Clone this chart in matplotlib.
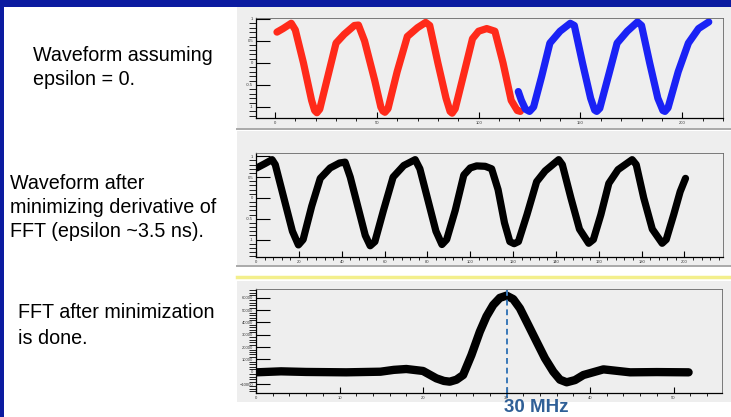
"""Slide: waveform before/after epsilon minimization and the resulting FFT."""
import matplotlib; matplotlib.use('Agg')
import matplotlib.pyplot as plt
from matplotlib.patches import Rectangle
from matplotlib.ticker import MultipleLocator

W, H = 731, 417
plt.rcParams['font.family'] = ['Liberation Sans', 'DejaVu Sans']

# --- waveform assuming epsilon = 0 (red = first half, blue = second half) ---
red_x = [1, 4, 8, 10, 14, 18, 19.5, 20.6, 22, 26, 30, 34, 39, 41, 44, 49, 52, 53, 54, 55.5,
         60, 65, 70, 74, 76, 80, 84, 86, 87, 88.5, 93, 97, 100, 104, 108, 112, 116, 119, 120.5]
red_y = [0.70, 0.78, 0.90, 0.75, 0.0, -0.85, -1.08, -1.13, -1.05, -0.3, 0.45, 0.65, 0.85,
         0.86, 0.5, -0.4, -1.0, -1.09, -1.12, -1.04, -0.2, 0.6, 0.8, 0.92, 0.85, 0.0, -0.8,
         -1.1, -1.14, -1.04, -0.2, 0.55, 0.72, 0.78, 0.72, 0.0, -0.85, -1.08, -1.1]
blue_x = [119.5, 121, 123, 125, 127, 131, 135, 140, 145, 147, 151, 155, 157, 158, 159.5,
          164, 168, 173, 178, 180, 184, 188, 190.5, 191.5, 193, 198, 203, 208, 213]
blue_y = [-0.65, -0.85, -1.05, -1.1, -1.0, -0.3, 0.45, 0.72, 0.9, 0.85, 0.0, -0.8, -1.07,
          -1.1, -1.03, -0.25, 0.45, 0.72, 0.93, 0.85, 0.0, -0.8, -1.08, -1.1, -1.02, -0.2,
          0.45, 0.78, 0.93]

# --- waveform after minimizing derivative of FFT ---
blk_x = [0.3, 4, 7.5, 9, 13, 17, 19.8, 22, 26, 30, 34.6, 39, 41.6, 44, 48, 51, 53.3, 55.5,
         59.5, 64, 69, 74.3, 76.5, 80, 84, 86.8, 89, 93, 97, 100, 103, 107, 110, 113, 116,
         118.5, 120.5, 122.5, 126.5, 131, 135, 141.3, 143, 147, 151, 155.3, 157.5, 161,
         164.7, 169, 175.6, 177.5, 181, 185, 189.6, 191.5, 195, 198, 200.5]
blk_y = [0.72, 0.82, 0.92, 0.8, 0.0, -0.8, -1.13, -1.0, -0.2, 0.47, 0.72, 0.84, 0.86, 0.5,
         -0.3, -0.9, -1.15, -1.05, -0.3, 0.5, 0.78, 0.92, 0.7, 0.0, -0.8, -1.12, -1.0, -0.3,
         0.55, 0.72, 0.77, 0.76, 0.7, 0.2, -0.6, -1.05, -1.1, -1.05, -0.4, 0.39, 0.65, 0.92,
         0.8, 0.0, -0.75, -1.09, -1.0, -0.4, 0.35, 0.68, 0.92, 0.8, 0.0, -0.75, -1.09, -1.0,
         -0.4, 0.15, 0.47]

# --- FFT after minimization (MHz) ---
fft_x = [0, 3, 6, 10.8, 14.9, 16.5, 18, 20, 21.6, 22.5, 23.2, 24, 24.8, 25.8, 26.8, 27.6,
         28.4, 29.2, 30, 30.8, 31.6, 32.6, 33.6, 34.6, 35.6, 36.4, 37.2, 38.2, 39.2, 41.6,
         44.8, 48, 51.8]
fft_y = [-500, 300, -200, -500, 0, 1500, 2200, 600, -5400, -7500, -8100, -6500, -2700,
         13600, 32500, 45000, 54200, 60000, 61800, 59000, 51500, 38000, 24400, 10900, 0,
         -6500, -8600, -6800, -2700, 1900, -500, -300, -500]
peak_mhz = 30

SLIDE_BLUE = '#0B1BA0'
PANEL_GRAY = '#EEEEEE'

fig = plt.figure(figsize=(W / 100, H / 100), dpi=100)
fig.patch.set_facecolor('white')

# background layer in pixel coordinates
bg = fig.add_axes([0, 0, 1, 1])
bg.set_xlim(0, W); bg.set_ylim(H, 0); bg.axis('off')
bg.add_patch(Rectangle((0, 0), W, 7, color=SLIDE_BLUE, lw=0))
bg.add_patch(Rectangle((0, 0), 4, H, color=SLIDE_BLUE, lw=0))
for y0, y1 in [(7, 128), (131, 265), (281, 402)]:
    bg.add_patch(Rectangle((237, y0), W - 237, y1 - y0, color=PANEL_GRAY, lw=0))
bg.plot([237, W], [129, 129], color='#A9A9A9', lw=1.4)
bg.plot([237, W], [266, 266], color='#A9A9A9', lw=1.4)
bg.plot([237, W], [277, 277], color='#F3EF8C', lw=2.5)

txt = dict(fontsize=14.2, color='black', va='center', ha='left')
for s, x, y in [('Waveform assuming', 33, 55), ('epsilon = 0.', 33, 79),
                ('Waveform after', 10, 183), ('minimizing derivative of', 10, 207),
                ('FFT (epsilon ~3.5 ns).', 10, 231),
                ('FFT after minimization', 18, 313), ('is done.', 18, 338)]:
    bg.text(x, y, s, **txt)


def px_axes(x0, y0, x1, y1):
    ax = fig.add_axes([x0 / W, 1 - y1 / H, (x1 - x0) / W, (y1 - y0) / H])
    ax.set_facecolor(PANEL_GRAY)
    for side in ('top', 'right'):
        ax.spines[side].set_color('#666666'); ax.spines[side].set_linewidth(0.6)
    for side in ('left', 'bottom'):
        ax.spines[side].set_color('black'); ax.spines[side].set_linewidth(0.9)
    ax.tick_params(direction='in', labelsize=3, colors='black', labelcolor='#333333',
                   pad=2)
    ax.tick_params(axis='y', which='major', length=10, width=0.8)
    ax.tick_params(axis='y', which='minor', length=5, width=0.6)
    ax.tick_params(axis='x', which='major', length=4, width=0.8)
    ax.tick_params(axis='x', which='minor', length=2.2, width=0.6)
    return ax


line_kw = dict(solid_joinstyle='round', solid_capstyle='round')

# panel 1
ax1 = px_axes(256, 18, 723, 118)
ax1.plot(red_x, red_y, color='#FF2A1A', lw=5.2, **line_kw)
ax1.plot(blue_x, blue_y, color='#1A22F5', lw=5.2, **line_kw)
ax1.set_xlim(-9.3, 220); ax1.set_ylim(-1.25, 1.02)
ax1.set_xticks([0, 50, 100, 150, 200]); ax1.set_yticks([-1, -0.5, 0, 0.5, 1])
ax1.set_yticklabels(['-1', '-0.5', '0', '0.5', '1'])
ax1.xaxis.set_minor_locator(MultipleLocator(10))
ax1.yaxis.set_minor_locator(MultipleLocator(0.1))

# panel 2
ax2 = px_axes(256, 153, 723, 257)
ax2.plot(blk_x, blk_y, color='black', lw=5.2, **line_kw)
ax2.set_xlim(0, 218); ax2.set_ylim(-1.42, 1.08)
ax2.set_xticks(range(0, 201, 20)); ax2.set_yticks([-1, -0.5, 0, 0.5, 1])
ax2.set_yticklabels(['-1', '-0.5', '0', '0.5', '1'])
ax2.xaxis.set_minor_locator(MultipleLocator(4))
ax2.yaxis.set_minor_locator(MultipleLocator(0.1))

# panel 3
ax3 = px_axes(256, 289, 722, 393)
ax3.plot(fft_x, fft_y, color='black', lw=6, **line_kw)
ax3.set_xlim(0, 55.8); ax3.set_ylim(-17300, 67200)
ax3.set_xticks(range(0, 51, 10)); ax3.set_yticks(range(-10000, 60001, 10000))
ax3.xaxis.set_minor_locator(MultipleLocator(2))
ax3.yaxis.set_minor_locator(MultipleLocator(2000))
ax3.axvline(peak_mhz, ymin=0, ymax=1, color='#3A78B8', lw=1.4, ls=(0, (3, 2)), clip_on=False)

# dashed marker continues below the axis, with its label
bg.plot([506.7, 506.7], [393, 398], color='#3A78B8', lw=1.4, ls=(0, (3, 2)))
bg.text(536, 408, f'{peak_mhz} MHz', fontsize=13.5, fontweight='bold', color='#2F5F96',
        ha='center', va='center')

fig.savefig('out.png', dpi=100)
